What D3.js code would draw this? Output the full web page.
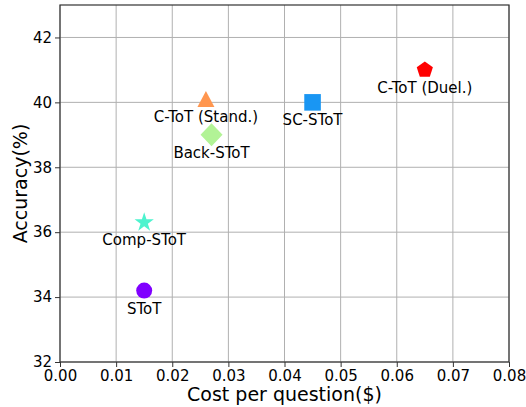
<!DOCTYPE html>
<html><head><meta charset="utf-8">
<script src="https://cdn.jsdelivr.net/npm/d3@7"></script>
<style>body{margin:0;background:#fff;} text{font-family:"DejaVu Sans",sans-serif;}</style>
</head><body><svg id="c" width="526" height="407"></svg>
<script>
const methods = ["SToT","SC-SToT","Comp-SToT","Back-SToT","C-ToT (Stand.)","C-ToT (Duel.)"];
const costs = [0.015,0.045,0.015,0.027,0.026,0.065];
const accuracy = [34.2,40.0,36.3,39.0,40.1,41.0];
const shapes = ["circle","square","star","diamond","triangle","pentagon"];
const colors = ["#8000ff","#1996f3","#4df3ce","#b2f396","#ff964f","#ff0000"];
const xTicks = [0,0.01,0.02,0.03,0.04,0.05,0.06,0.07,0.08];
const yTicks = [32,34,36,38,40,42];

const svg = d3.select("#c");
const L=60,R=509,T=5,B=362;
const x = d3.scaleLinear().domain([0,0.08]).range([L,R]);
const y = d3.scaleLinear().domain([32,43]).range([B,T]);

svg.append("g").selectAll("line").data(xTicks).join("line")
  .attr("x1",d=>x(d)).attr("x2",d=>x(d)).attr("y1",T).attr("y2",B)
  .attr("stroke","#b0b0b0").attr("stroke-width",1);
svg.append("g").selectAll("line").data(yTicks).join("line")
  .attr("y1",d=>y(d)).attr("y2",d=>y(d)).attr("x1",L).attr("x2",R)
  .attr("stroke","#b0b0b0").attr("stroke-width",1);

const xa = svg.append("g").attr("transform",`translate(0,${B})`)
  .call(d3.axisBottom(x).tickValues(xTicks).tickFormat(d3.format(".2f")).tickSize(5).tickPadding(3));
const ya = svg.append("g").attr("transform",`translate(${L},0)`)
  .call(d3.axisLeft(y).tickValues(yTicks).tickSize(5).tickPadding(3));
[xa,ya].forEach(g=>{
  g.select(".domain").remove();
  g.selectAll("line").attr("stroke","#333").attr("stroke-width",1);
  g.selectAll("text").attr("font-size",15).attr("fill","#000").attr("font-family","DejaVu Sans");
});
svg.append("rect").attr("x",L).attr("y",T).attr("width",R-L).attr("height",B-T)
  .attr("fill","none").attr("stroke","#333").attr("stroke-width",1.2);

const symMap = {circle:d3.symbolCircle,square:d3.symbolSquare,star:d3.symbolStar};
const sizes = {circle:200,square:275,star:115};
function pentagon(r){
  const pts=[];
  for(let i=0;i<5;i++){const a=-Math.PI/2+i*2*Math.PI/5;pts.push([r*Math.cos(a),r*Math.sin(a)]);}
  return "M"+pts.map(p=>p.join(",")).join("L")+"Z";
}
const g = svg.append("g");
methods.forEach((m,i)=>{
  const s = shapes[i];
  let path;
  if(s==="pentagon") path = pentagon(8.5);
  else if(s==="diamond") path = "M0,-11.5L11,0L0,11.5L-11,0Z";
  else if(s==="triangle") path = "M0,-8L8.5,8L-8.5,8Z";
  else path = d3.symbol().type(symMap[s]).size(sizes[s])();
  g.append("path").attr("d",path)
    .attr("transform",`translate(${x(costs[i])},${y(accuracy[i])})`)
    .attr("fill",colors[i]);
  g.append("text").attr("x",x(costs[i])).attr("y",y(accuracy[i])+23)
    .attr("text-anchor","middle").attr("font-size",15).attr("fill","#000").text(m);
});

svg.append("text").attr("x",(L+R)/2).attr("y",401).attr("text-anchor","middle")
  .attr("font-size",19).text("Cost per question($)");
svg.append("text").attr("transform",`translate(27,${(T+B)/2}) rotate(-90)`)
  .attr("text-anchor","middle").attr("font-size",19).text("Accuracy(%)");
</script></body></html>
